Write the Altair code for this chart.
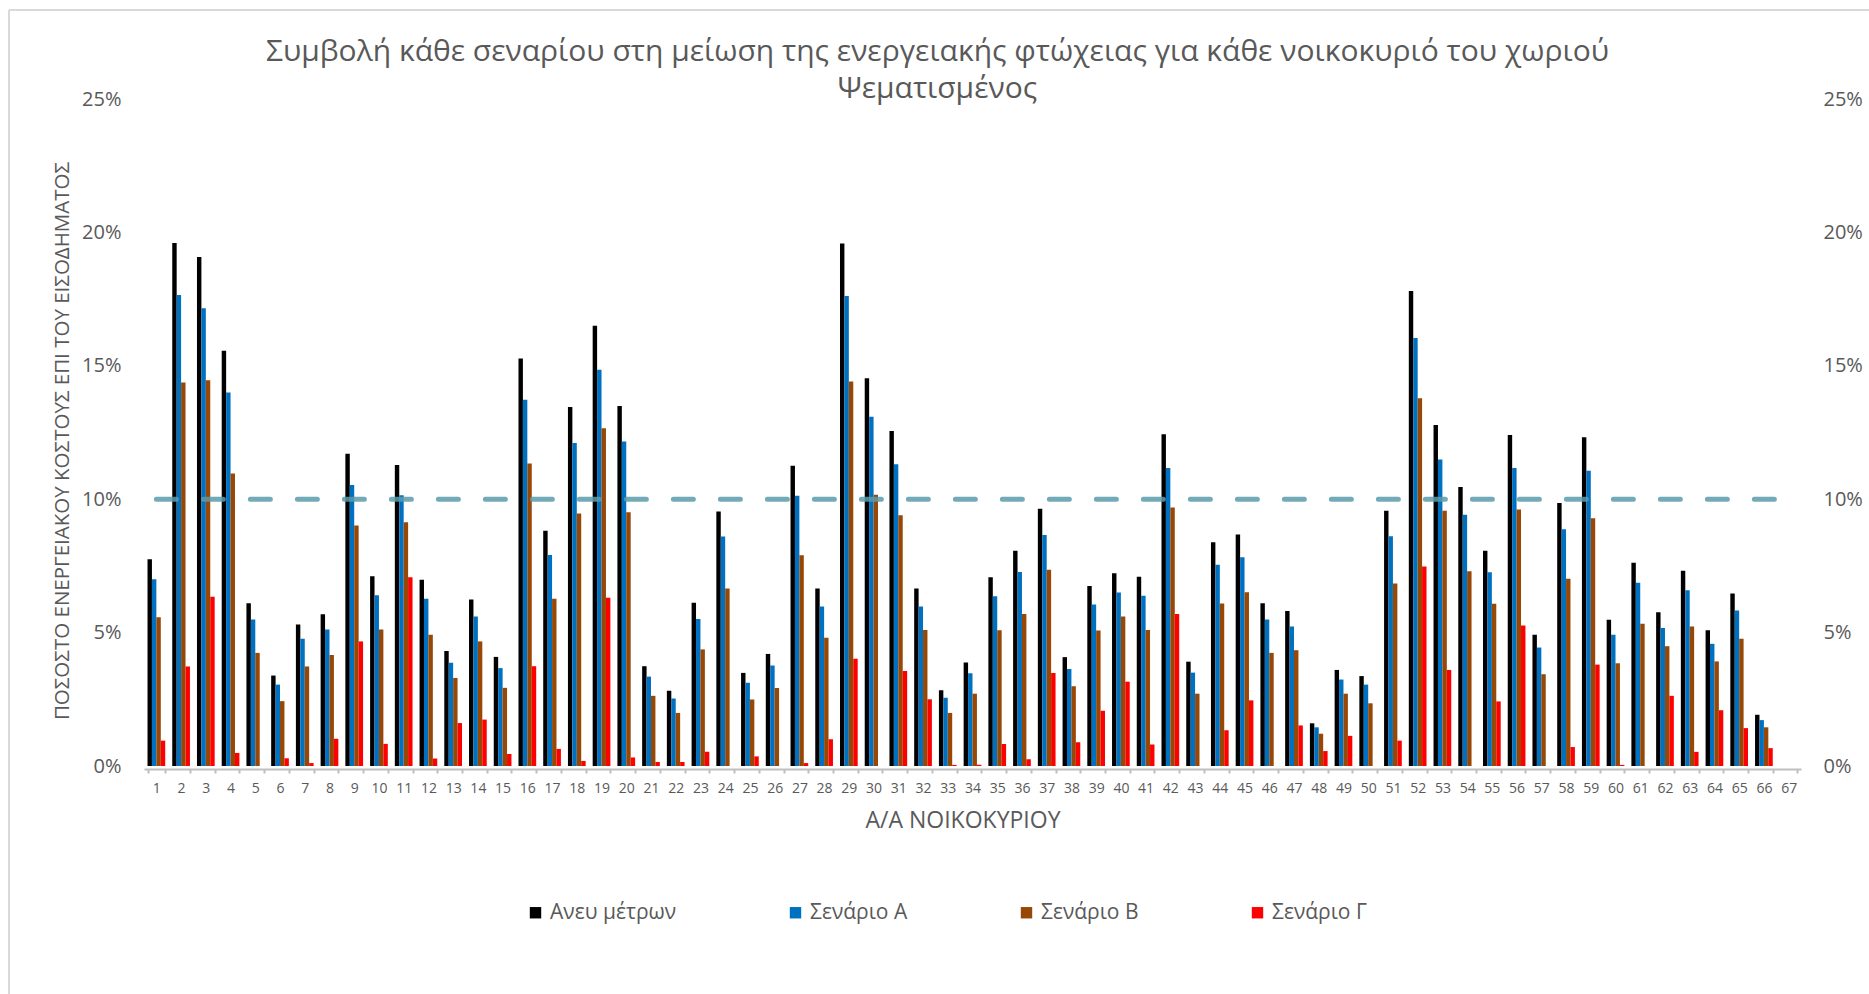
import altair as alt
import pandas as pd

households = list(range(1, 68))
series_names = ["Ανευ μέτρων", "Σενάριο Α", "Σενάριο Β", "Σενάριο Γ"]
series_colors = ["#000000", "#0070C0", "#974706", "#FF0000"]

# values in percent
no_measures = [7.75, 19.6, 19.08, 15.56, 6.1, 3.39, 5.3, 5.69, 11.7, 7.11,
               11.28, 6.98, 4.31, 6.24, 4.09, 15.27, 8.82, 13.46, 16.5, 13.49,
               3.74, 2.82, 6.12, 9.54, 3.49, 4.2, 11.25, 6.65, 19.58, 14.53,
               12.56, 6.65, 2.84, 3.88, 7.07, 8.07, 9.64, 4.08, 6.75, 7.22,
               7.09, 12.43, 3.91, 8.39, 8.68, 6.1, 5.81, 1.6, 3.6, 3.37,
               9.57, 17.8, 12.78, 10.46, 8.07, 12.41, 4.92, 9.86, 12.32, 5.48,
               7.62, 5.76, 7.32, 5.09, 6.47, 1.92, 0]
scen_a = [7.0, 17.65, 17.16, 14.0, 5.49, 3.05, 4.77, 5.12, 10.53, 6.4,
          10.15, 6.27, 3.87, 5.6, 3.67, 13.73, 7.91, 12.11, 14.85, 12.16,
          3.35, 2.53, 5.51, 8.6, 3.12, 3.77, 10.13, 5.98, 17.62, 13.09,
          11.31, 5.98, 2.56, 3.48, 6.36, 7.27, 8.66, 3.64, 6.05, 6.5,
          6.38, 11.17, 3.5, 7.54, 7.82, 5.49, 5.23, 1.45, 3.24, 3.05,
          8.61, 16.04, 11.49, 9.42, 7.26, 11.17, 4.44, 8.87, 11.07, 4.92,
          6.87, 5.17, 6.59, 4.58, 5.83, 1.72, 0]
scen_b = [5.58, 14.37, 14.46, 10.96, 4.24, 2.43, 3.73, 4.16, 9.01, 5.12,
          9.14, 4.92, 3.3, 4.67, 2.93, 11.34, 6.27, 9.46, 12.66, 9.51,
          2.63, 1.99, 4.37, 6.65, 2.49, 2.92, 7.9, 4.81, 14.41, 10.17,
          9.4, 5.1, 1.99, 2.71, 5.09, 5.7, 7.36, 2.99, 5.08, 5.6,
          5.1, 9.69, 2.71, 6.09, 6.51, 4.24, 4.34, 1.21, 2.71, 2.35,
          6.84, 13.78, 9.57, 7.3, 6.08, 9.61, 3.44, 7.02, 9.29, 3.85,
          5.33, 4.49, 5.23, 3.92, 4.77, 1.45, 0]
scen_c = [0.95, 3.73, 6.34, 0.49, 0, 0.29, 0.11, 1.02, 4.67, 0.83,
          7.07, 0.28, 1.61, 1.74, 0.45, 3.74, 0.64, 0.19, 6.31, 0.32,
          0.15, 0.15, 0.53, 0, 0.36, 0, 0.11, 1.0, 4.02, 0,
          3.56, 2.5, 0.04, 0.05, 0.82, 0.25, 3.49, 0.89, 2.07, 3.16,
          0.81, 5.7, 0, 1.34, 2.46, 0, 1.52, 0.56, 1.13, 0,
          0.95, 7.48, 3.6, 0, 2.42, 5.27, 0, 0.71, 3.8, 0.04,
          0, 2.63, 0.53, 2.09, 1.42, 0.67, 0]
threshold = [10.0] * 67

rows = []
for name, vals in zip(series_names, [no_measures, scen_a, scen_b, scen_c]):
    for h, v in zip(households, vals):
        rows.append({"hh": h, "series": name, "value": v / 100})
df = pd.DataFrame(rows)
df_line = pd.DataFrame({"hh": households, "value": [t / 100 for t in threshold]})

W, H = 1657, 667
GREY = "#595959"
FONT = "Open Sans"

x_enc = alt.X("hh:O", title="Α/Α ΝΟΙΚΟΚΥΡΙΟΥ",
              scale=alt.Scale(paddingInner=0.284, paddingOuter=0.142),
              axis=alt.Axis(labelAngle=0, labelFontSize=14, labelColor=GREY, labelFont=FONT,
                            labelPadding=8, domainColor="#BFBFBF", domainWidth=2,
                            tickColor="#BFBFBF", tickWidth=2, tickSize=4, tickBand="extent",
                            offset=3, titleFontSize=23, titleColor=GREY, titleFont=FONT,
                            titleFontWeight="normal", titlePadding=14, titleX=W / 2 - 10,
                            grid=False))

y_scale = alt.Scale(domain=[0, 0.25])

bars = alt.Chart(df).mark_bar().encode(
    x=x_enc,
    xOffset=alt.XOffset("series:N", sort=series_names, scale=alt.Scale(paddingInner=0, paddingOuter=0)),
    y=alt.Y("value:Q", scale=y_scale, title="ΠΟΣΟΣΤΟ ΕΝΕΡΓΕΙΑΚΟΥ ΚΟΣΤΟΥΣ ΕΠΙ ΤΟΥ ΕΙΣΟΔΗΜΑΤΟΣ",
            axis=alt.Axis(orient="left", format=".0%", values=[0, 0.05, 0.10, 0.15, 0.20, 0.25],
                          labelFontSize=20, labelColor=GREY, labelFont=FONT, labelPadding=23,
                          domain=False, ticks=False, grid=False,
                          titleFontSize=20.5, titleColor=GREY, titleFont=FONT, titleFontWeight="normal",
                          titleX=-82, titleY=H / 2 + 8, titleAngle=270, titleBaseline="middle")),
    color=alt.Color("series:N", sort=series_names,
                    scale=alt.Scale(domain=series_names, range=series_colors),
                    legend=alt.Legend(title=None, orient="none", direction="horizontal", columns=4,
                                      legendX=381, legendY=803, symbolType="square", symbolSize=130,
                                      symbolStrokeWidth=0, labelFontSize=21, labelColor=GREY,
                                      labelFont=FONT, columnPadding=108, labelOffset=4)),
)

line = alt.Chart(df_line).mark_line(
    color="#5B9BAA", opacity=0.85, strokeWidth=5, strokeDash=[20, 27], strokeCap="round"
).encode(
    x=alt.X("hh:O"),
    y=alt.Y("value:Q", scale=y_scale,
            axis=alt.Axis(orient="right", format=".0%", values=[0, 0.05, 0.10, 0.15, 0.20, 0.25],
                          labelFontSize=20, labelColor=GREY, labelFont=FONT, labelPadding=22,
                          domain=False, ticks=False, grid=False, title=None)),
)

frame_df = pd.DataFrame({"k": [0]})
border_left = alt.Chart(frame_df).mark_rule(color="#D9D9D9", strokeWidth=2).encode(
    x=alt.value(-135), y=alt.value(-89), y2=alt.value(H + 240))
border_top = alt.Chart(frame_df).mark_rule(color="#D9D9D9", strokeWidth=2).encode(
    x=alt.value(-135), x2=alt.value(W + 80), y=alt.value(-89))

chart = alt.layer(border_left, border_top, bars, line).resolve_scale(y="independent").properties(
    width=W, height=H,
    background="white",
    title=alt.TitleParams(
        text=["Συμβολή κάθε σεναρίου στη μείωση της ενεργειακής φτώχειας για κάθε νοικοκυριό του χωριού",
              "Ψεματισμένος"],
        fontSize=30, font=FONT, color=GREY, fontWeight="normal", anchor="middle",
        dx=-35, dy=95, lineHeight=37, offset=0),
    autosize=alt.AutoSizeParams(type="none"),
    padding={"left": 144, "top": 99, "right": 68, "bottom": 228},
).configure_view(strokeWidth=0, stroke="transparent")

chart.save("out.html", embed_options={"renderer": "svg", "actions": False})
